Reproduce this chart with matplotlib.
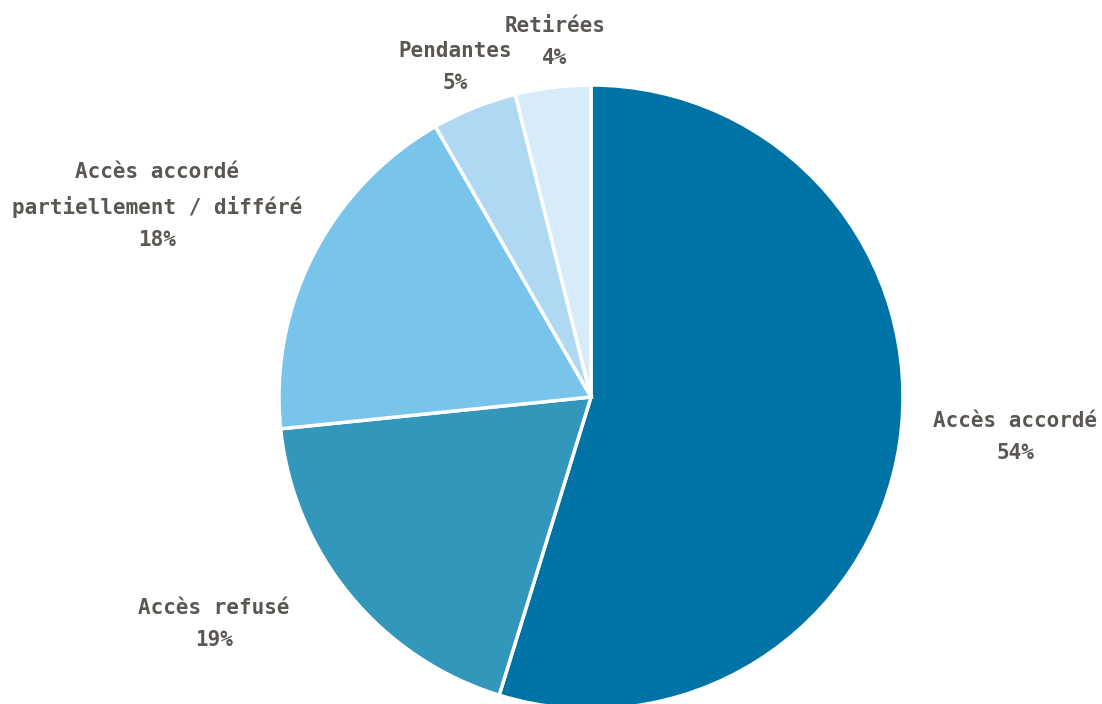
import matplotlib.pyplot as plt

# shares, label text as printed on the chart
categories = ["Accès accordé", "Accès refusé", "Accès accordé\npartiellement / différé", "Pendantes", "Retirées"]
shares = [54.7, 18.6, 18.3, 4.4, 3.9]
pct_labels = ["54%", "19%", "18%", "5%", "4%"]
colors = ["#0073a6", "#3396bb", "#78c4ea", "#afd9f2", "#d7ecf8"]

# label anchor points (pixels in the 1102x704 picture, centre of text block)
label_px = [(1015, 437), (214, 624), (157, 206), (455, 67), (555, 42)]

W, H = 1102, 704
cx, cy, R = 591, 397, 312

fig = plt.figure(figsize=(W / 100, H / 100), dpi=100)
ax = fig.add_axes([0, 0, 1, 1])
ax.pie(shares, colors=colors, startangle=90, counterclock=False, radius=1,
       wedgeprops=dict(edgecolor="white", linewidth=2.5))
ax.set_xlim(-cx / R, (W - cx) / R)
ax.set_ylim(-(H - cy) / R, cy / R)
ax.set_aspect("equal")
ax.axis("off")

for name, pct, (px, py) in zip(categories, pct_labels, label_px):
    x = (px - cx) / R
    y = (cy - py) / R
    ax.text(x, y, name + "\n" + pct, ha="center", va="center", fontsize=15,
            fontweight="bold", family="DejaVu Sans Mono", color="#5a5652",
            linespacing=1.78)

fig.savefig("out.png", dpi=100)
